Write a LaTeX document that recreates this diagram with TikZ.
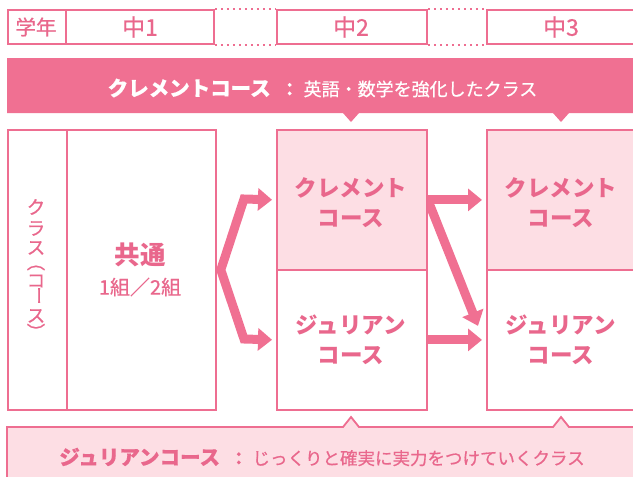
\documentclass[tikz,border=0pt]{standalone}
\usepackage{fontspec}
\setmainfont{Noto Sans CJK JP}
\newfontfamily\med[FakeBold=0.6]{Noto Sans CJK JP}
\usepackage{graphicx}
\usetikzlibrary{arrows.meta,calc,backgrounds}
\definecolor{pk}{HTML}{EE6E91}
\definecolor{pkfill}{HTML}{F07092}
\definecolor{lt}{HTML}{FDDEE4}
\definecolor{tx}{HTML}{E9678C}
\newcommand\vrot[1]{\rotatebox[origin=c]{-90}{#1}}
\begin{document}
\begin{tikzpicture}[x=1pt,y=-1pt,
  box/.style={draw=pk, line width=1.8pt, fill=white, inner sep=0pt, anchor=north west},
  ltbox/.style={box, fill=lt},
  dotline/.style={draw=pk, line width=2pt, dash pattern=on 2pt off 4pt},
  hdr/.style={text=tx, inner sep=0pt, font=\med\fontsize{23}{23}\selectfont},
  vt/.style={text=tx, inner sep=0pt, font=\med\fontsize{18.5}{18.5}\selectfont},
  crs/.style={text=tx, inner sep=0pt, align=center, font=\fontsize{22.5}{30}\selectfont\bfseries},
  fat/.style={draw=pkfill, line width=9pt, line join=miter, -{Triangle[width=22pt,length=14pt]}},
  bigtip/.tip={Triangle[width=22pt,length=14pt]}
  ]
\useasboundingbox (0,0) rectangle (633,477);
\clip (0,0) rectangle (633,477);

% header row
\node[box, minimum width=58pt, minimum height=34pt] (nen) at (7,9) {};
\node[box, minimum width=148pt, minimum height=34pt] (h1) at (65,9) {};
\node[box, minimum width=150pt, minimum height=34pt] (h2) at (276,9) {};
\node[box, minimum width=150pt, minimum height=34pt] (h3) at (486,9) {};
\draw[dotline] (h1.north east) -- (h2.north west);
\draw[dotline] (h1.south east) -- (h2.south west);
\draw[dotline] (h2.north east) -- (h3.north west);
\draw[dotline] (h2.south east) -- (h3.south west);
\node[hdr, font=\med\fontsize{20.5}{20.5}\selectfont] (tnen) at (36,27) {学年};
\node[hdr] (th1) at (140,27) {中1};
\node[hdr] (th2) at (351,27) {中2};
\node[hdr] (th3) at (561,27) {中3};

% clement banner
\fill[pkfill] (7,58) -- (640,58) -- (640,113) -- (569,113) -- (561,122) -- (553,113)
  -- (359,113) -- (351,122) -- (343,113) -- (7,113) -- cycle;
\node[text=white, inner sep=0pt, font=\med\fontsize{18}{18}\selectfont] (tcl) at (322.5,88)
  {{\fontsize{20.5}{20.5}\selectfont\bfseries クレメントコース}\hspace{10pt}{\bfseries ：}\hspace{5pt}英語・数学を強化したクラス};

% main boxes
\node[box, minimum width=59pt, minimum height=280pt] (cls) at (7,129) {};
\node[box, minimum width=149pt, minimum height=280pt] (kyo) at (66,129) {};
\node[ltbox, minimum width=150pt, minimum height=140pt] (c2t) at (276,129) {};
\node[box, minimum width=150pt, minimum height=140pt] (c2b) at (276,269) {};
\node[ltbox, minimum width=150pt, minimum height=140pt] (c3t) at (486,129) {};
\node[box, minimum width=150pt, minimum height=140pt] (c3b) at (486,269) {};

% vertical text クラス（コース）
\node[vt] (v1) at (36,207) {ク};
\node[vt] (v2) at (36,228.5) {ラ};
\node[vt] (v3) at (36,248) {ス};
\node[vt] (v4) at (36,268) {︵};
\node[vt] (v5) at (36,281) {コ};
\node[vt] (v6) at (36,295.5) {\vrot{ー}};
\node[vt] (v7) at (36,316) {ス};
\node[vt] (v8) at (36,331.5) {︶};

\node[text=tx, inner sep=0pt, font=\fontsize{25.5}{25.5}\selectfont\bfseries] (tkyo) at (140,255) {共通};
\node[text=tx, inner sep=0pt, font=\med\fontsize{20}{20}\selectfont] (tkumi) at (140,287) {1組／2組};
\node[crs] (t2t) at (351,203) {クレメント\\コース};
\node[crs] (t2b) at (351,340) {ジュリアン\\コース};
\node[crs] (t3t) at (561,203) {クレメント\\コース};
\node[crs] (t3b) at (561,340) {ジュリアン\\コース};

% arrows
\coordinate (fu) at (244,199);
\coordinate (fd) at (244,339);
\coordinate (fv) at ($(kyo.east)+(4,0)$);
\begin{scope}[on background layer]
\draw[fat, bigtip-bigtip, shorten <=4pt, shorten >=4pt] (c2t.west) -- (fu) -- (fv) -- (fd) -- (c2b.west);
\draw[fat] (c2t.east) -- ($(c3b.west)+(-8,-14)$);
\end{scope}
\draw[fat, shorten >=4pt] (c2t.east) -- (c3t.west);
\draw[fat, shorten >=4pt] (c2b.east) -- (c3b.west);

% julian banner
\filldraw[fill=lt, draw=pk, line width=1.8pt] (7,490) -- (7,427) -- (343,427) -- (351,417)
  -- (359,427) -- (553,427) -- (561,417) -- (569,427) -- (640,427) -- (640,490);
\node[text=tx, inner sep=0pt, font=\med\fontsize{17.5}{17.5}\selectfont] (tju) at (322,457)
  {{\fontsize{20.5}{20.5}\selectfont\bfseries ジュリアンコース}\hspace{10pt}{\bfseries ：}\hspace{5pt}じっくりと確実に実力をつけていくクラス};
\end{tikzpicture}
\end{document}
